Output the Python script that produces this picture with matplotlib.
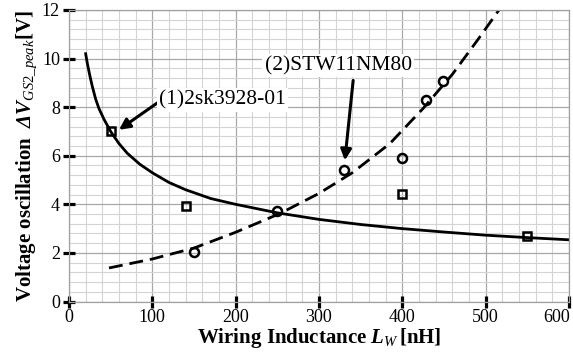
import numpy as np
import matplotlib.pyplot as plt
from matplotlib.ticker import MultipleLocator
from matplotlib.transforms import offset_copy

plt.rcParams['font.family'] = ['Liberation Serif', 'DejaVu Serif']
plt.rcParams['mathtext.fontset'] = 'custom'
plt.rcParams['mathtext.rm'] = 'Liberation Serif'
plt.rcParams['mathtext.it'] = 'Liberation Serif:italic'
plt.rcParams['mathtext.bf'] = 'Liberation Serif:bold'
plt.rcParams['mathtext.bfit'] = 'Liberation Serif:italic:bold'

# measured points
sq_x = [50, 140, 400, 550]
sq_y = [7.0, 3.95, 4.42, 2.71]
ci_x = [150, 250, 330, 400, 428, 449]
ci_y = [2.05, 3.73, 5.43, 5.89, 8.28, 9.06]

# fitted curves
sol_x = [20, 22, 25, 28, 32, 36, 42, 50, 60, 70, 85, 100, 120, 140, 170, 200,
         250, 300, 350, 400, 450, 500, 550, 600]
sol_y = [10.2, 9.8, 9.3, 8.85, 8.33, 7.94, 7.5, 7.0, 6.5, 6.1, 5.65, 5.3, 4.9,
         4.6, 4.24, 4.0, 3.65, 3.38, 3.17, 3.0, 2.86, 2.73, 2.63, 2.54]
das_x = [48, 100, 150, 200, 253, 300, 340, 385, 425, 460, 490, 517]
das_y = [1.38, 1.75, 2.2, 2.85, 3.62, 4.45, 5.3, 6.5, 7.95, 9.35, 10.75, 12.05]

xticks = [0, 100, 200, 300, 400, 500, 600]
yticks = [0, 2, 4, 6, 8, 10, 12]

fig = plt.figure(figsize=(5.73, 3.54), dpi=100)
ax = fig.add_axes([69/573, 1 - 301.5/354, 500/573, 291.5/354])

ax.set_xlim(0, 600)
ax.set_ylim(0, 12)
ax.set_xticks(xticks)
ax.set_xticklabels([str(t) for t in xticks[:-1]] + [''])
ax.set_yticks(yticks)
ax.xaxis.set_minor_locator(MultipleLocator(20))
ax.yaxis.set_minor_locator(MultipleLocator(0.4))
ax.grid(True, which='major', color='#a8a8a8', lw=0.9)
ax.grid(True, which='minor', color='#d4d4d4', lw=0.8)
ax.set_axisbelow(True)
for s in ax.spines.values():
    s.set_color('#a0a0a0')
    s.set_linewidth(0.9)

ax.tick_params(which='major', direction='inout', length=9, width=2.3, color='black',
               labelsize=13)
ax.tick_params(axis='x', pad=1)
ax.tick_params(axis='y', pad=2)
ax.tick_params(which='minor', length=0)

# last x tick label pushed inside the figure, as in the original
tr = offset_copy(ax.transAxes, fig=fig, x=1, y=-5.5, units='points')
ax.text(1.0, 0.0, str(xticks[-1]), transform=tr, fontsize=13, ha='right', va='top')

ax.plot(sol_x, sol_y, color='black', lw=2.0)
ax.plot(das_x, das_y, color='black', lw=2.0, dashes=(5, 2.5), clip_on=True)
ax.plot(sq_x, sq_y, ls='none', marker='s', ms=6, mfc='none', mec='black', mew=1.8)
ax.plot(ci_x, ci_y, ls='none', marker='o', ms=6.5, mfc='none', mec='black', mew=1.8)

box = dict(facecolor='white', edgecolor='none', pad=1.5)
arrow = dict(arrowstyle='-|>', color='black', lw=2.2, mutation_scale=16, shrinkA=0, shrinkB=0)
ax.annotate('', xy=(60, 7.07), xytext=(107, 8.2), arrowprops=arrow)
ax.text(108, 8.3, '(1)2sk3928-01', fontsize=15.5, ha='left', va='center', bbox=box)
ax.text(323, 9.72, '(2)STW11NM80', fontsize=15.5, ha='center', va='center', bbox=box)
ax.annotate('', xy=(331, 5.81), xytext=(341, 9.1), arrowprops=arrow)

ax.set_xlabel(r'Wiring Inductance $\mathbfit{L}_{\mathit{W}}\,$[nH]', fontsize=15,
              fontweight='bold', labelpad=0)
ax.set_ylabel(r'Voltage oscillation  $\mathbfit{ΔV}_{\mathit{GS2\_peak}}$[V]', fontsize=15,
              fontweight='bold', labelpad=2)

fig.savefig('out.png', dpi=100)
